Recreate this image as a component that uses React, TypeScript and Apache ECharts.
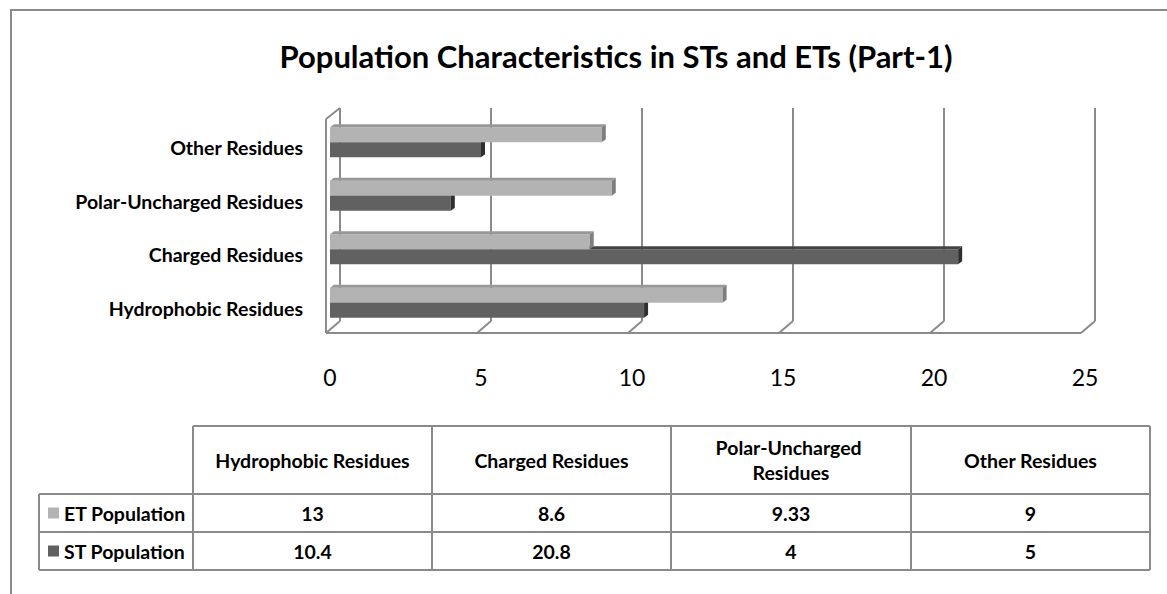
import React, { useEffect, useRef } from "react";
import * as echarts from "echarts";

// ---- data ----
const categories = [
  "Hydrophobic Residues",
  "Charged Residues",
  "Polar-Uncharged Residues",
  "Other Residues",
];
const seriesNames = ["ET Population", "ST Population"];
const etValues = [13, 8.6, 9.33, 9];
const stValues = [10.4, 20.8, 4, 5];
const xTicks = [0, 5, 10, 15, 20, 25];
const titleText = "Population Characteristics in STs and ETs (Part-1)";

const FONT = "Lato, 'Open Sans', sans-serif";
const LINE = "#8a8a8a";
const LABEL_SIZE = 19.5;

type Shade = { front: string; top: string; side: string };
const etShade: Shade = { front: "#b3b3b3", top: "#989898", side: "#7e7e7e" };
const stShade: Shade = { front: "#616161", top: "#454545", side: "#2f2f2f" };

function barRenderer(offsetTop: number, shade: Shade) {
  return (params: any, api: any) => {
    const v = api.value(0);
    const c = api.value(1);
    const p0 = api.coord([0, c]);
    const p1 = api.coord([v, c]);
    const b = p0[1] - 5.5;
    const y0 = b + offsetTop;
    const h = 15;
    const dx = 4;
    const dy = 3;
    const x0 = p0[0];
    const x1 = p1[0];
    return {
      type: "group",
      children: [
        {
          type: "rect",
          shape: { x: x0, y: y0, width: x1 - x0, height: h },
          style: { fill: shade.front },
        },
        {
          type: "polygon",
          shape: {
            points: [
              [x0, y0],
              [x1, y0],
              [x1 + dx, y0 - dy],
              [x0 + dx, y0 - dy],
            ],
          },
          style: { fill: shade.top },
        },
        {
          type: "polygon",
          shape: {
            points: [
              [x1, y0],
              [x1 + dx, y0 - dy],
              [x1 + dx, y0 + h - dy],
              [x1, y0 + h],
            ],
          },
          style: { fill: shade.side },
        },
      ],
    };
  };
}

function frameRenderer(params: any, api: any) {
  const v = api.value(0);
  const cs = params.coordSys;
  const top = cs.y;
  const bottom = cs.y + cs.height;
  const p = api.coord([v, 0]);
  const xb = p[0] + 10;
  const xf = p[0] - 4;
  const ls = { stroke: LINE, lineWidth: 2, fill: "none" };
  const children: any[] = [
    {
      type: "line",
      shape: { x1: xb, y1: top - 13, x2: xb, y2: bottom - 14 },
      style: ls,
    },
    {
      type: "line",
      shape: { x1: xb, y1: bottom - 14, x2: xf, y2: bottom - 2 },
      style: ls,
    },
  ];
  if (params.dataIndex === 0) {
    const pEnd = api.coord([xTicks[xTicks.length - 1], 0]);
    children.push(
      {
        type: "line",
        shape: { x1: xf, y1: top - 2, x2: xf, y2: bottom - 2 },
        style: ls,
      },
      {
        type: "line",
        shape: { x1: xf, y1: top - 2, x2: xb, y2: top - 13 },
        style: ls,
      },
      {
        type: "line",
        shape: { x1: xf, y1: bottom - 2, x2: pEnd[0] - 4, y2: bottom - 2 },
        style: ls,
      }
    );
  }
  return { type: "group", children };
}

function buildTable(): any[] {
  const colX = [193, 432, 671, 911, 1150];
  const rowY = [426, 494, 532, 570];
  const legendLeft = 39;
  const ls = { stroke: LINE, lineWidth: 2 };
  const els: any[] = [];
  els.push({
    type: "line",
    shape: { x1: colX[0], y1: rowY[0], x2: colX[4], y2: rowY[0] },
    style: ls,
  });
  for (let r = 1; r < rowY.length; r++) {
    els.push({
      type: "line",
      shape: { x1: legendLeft, y1: rowY[r], x2: colX[4], y2: rowY[r] },
      style: ls,
    });
  }
  els.push({
    type: "line",
    shape: { x1: legendLeft, y1: rowY[1], x2: legendLeft, y2: rowY[3] },
    style: ls,
  });
  colX.forEach((x) =>
    els.push({
      type: "line",
      shape: { x1: x, y1: rowY[0], x2: x, y2: rowY[3] },
      style: ls,
    })
  );
  categories.forEach((cat, i) => {
    els.push({
      type: "text",
      x: (colX[i] + colX[i + 1]) / 2,
      y: (rowY[0] + rowY[1]) / 2,
      style: {
        text: cat,
        width: 205,
        overflow: "break",
        lineHeight: 25,
        fontFamily: FONT,
        fontWeight: "bold",
        fontSize: LABEL_SIZE,
        fill: "#000",
        align: "center",
        verticalAlign: "middle",
      },
    });
  });
  const rows = [etValues, stValues];
  const shades = [etShade, stShade];
  rows.forEach((vals, r) => {
    const cy = (rowY[r + 1] + rowY[r + 2]) / 2;
    els.push({
      type: "rect",
      shape: { x: 48, y: cy - 5.5, width: 11, height: 11 },
      style: { fill: shades[r].front },
    });
    els.push({
      type: "text",
      x: 64,
      y: cy,
      style: {
        text: seriesNames[r],
        fontFamily: FONT,
        fontWeight: "bold",
        fontSize: LABEL_SIZE,
        fill: "#000",
        align: "left",
        verticalAlign: "middle",
      },
    });
    vals.forEach((v, i) => {
      els.push({
        type: "text",
        x: (colX[i] + colX[i + 1]) / 2,
        y: cy,
        style: {
          text: String(v),
          fontFamily: FONT,
          fontWeight: "bold",
          fontSize: LABEL_SIZE,
          fill: "#000",
          align: "center",
          verticalAlign: "middle",
        },
      });
    });
  });
  els.push({
    type: "polyline",
    shape: {
      points: [
        [11, 600],
        [11, 10],
        [1175, 10],
      ],
    },
    style: { stroke: LINE, lineWidth: 2, fill: "none" },
  });
  return els;
}

export default function App() {
  const ref = useRef<HTMLDivElement>(null);
  useEffect(() => {
    if (!ref.current) return;
    const chart = echarts.init(ref.current, undefined, { renderer: "svg" });
    chart.setOption({
      animation: false,
      backgroundColor: "#fff",
      title: {
        text: titleText,
        left: 611,
        top: 35,
        textAlign: "center",
        textStyle: {
          fontFamily: FONT,
          fontWeight: "bold",
          fontSize: 31,
          color: "#000",
        },
      },
      grid: { left: 330, top: 121, width: 755, height: 214 },
      xAxis: {
        type: "value",
        min: 0,
        max: 25,
        interval: 5,
        splitLine: { show: false },
        axisLine: { show: false },
        axisTick: { show: false },
        axisLabel: {
          margin: 30,
          fontFamily: FONT,
          fontSize: 23,
          color: "#000",
        },
      },
      yAxis: {
        type: "category",
        data: categories,
        axisLine: { show: false },
        axisTick: { show: false },
        splitLine: { show: false },
        axisLabel: {
          margin: 27,
          fontFamily: FONT,
          fontWeight: "bold",
          fontSize: LABEL_SIZE,
          color: "#000",
        },
      },
      series: [
        {
          type: "custom",
          name: "frame",
          clip: false,
          silent: true,
          renderItem: frameRenderer,
          data: xTicks.map((v) => [v, 0]),
          encode: { x: 0, y: 1 },
          z: 1,
        },
        {
          type: "custom",
          name: seriesNames[1],
          clip: false,
          renderItem: barRenderer(0, stShade),
          data: stValues.map((v, i) => [v, i]),
          encode: { x: 0, y: 1 },
          z: 2,
        },
        {
          type: "custom",
          name: seriesNames[0],
          clip: false,
          renderItem: barRenderer(-15, etShade),
          data: etValues.map((v, i) => [v, i]),
          encode: { x: 0, y: 1 },
          z: 3,
        },
      ],
      graphic: buildTable(),
    });
    return () => chart.dispose();
  }, []);
  return (
    <div
      ref={ref}
      style={{
        position: "fixed",
        left: 0,
        top: 0,
        width: 1167,
        height: 594,
        background: "#fff",
      }}
    />
  );
}
